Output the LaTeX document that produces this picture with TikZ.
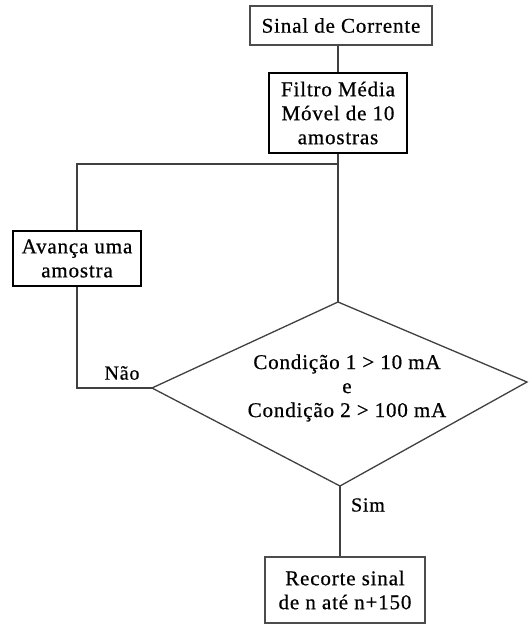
\documentclass[tikz,border=0pt]{standalone}
\usepackage{fontspec}
\setmainfont[LetterSpace=4,FakeBold=0.6]{Liberation Serif}
\begin{document}
\begin{tikzpicture}[x=1pt,y=-1pt,
  every node/.style={font=\fontsize{21}{24}\selectfont, align=center, inner sep=0pt},
  lightbox/.style={draw=black!70, line width=1.4pt, fill=white},
  heavybox/.style={draw=black, line width=2.2pt, fill=white},
  link/.style={draw=black!75, line width=1.3pt},
  tag/.style={font=\fontsize{20}{24}\selectfont}]
  \useasboundingbox (0,0) rectangle (528,624);
  \fill[white] (0,0) rectangle (528,624);

  % process boxes
  \node[lightbox, minimum width=182pt, minimum height=39pt] (sinal) at (341,25.5) {Sinal de Corrente};
  \node[heavybox, minimum width=138pt, minimum height=80pt] (filtro) at (338,113) {Filtro Média\\Móvel de 10\\amostras};
  \node[heavybox, minimum width=128pt, minimum height=55pt] (avanca) at (77,258.5) {Avança uma\\amostra};
  \node[lightbox, minimum width=160pt, minimum height=66pt] (recorte) at (345,590) {Recorte sinal\\de n até n+150};

  % decision diamond
  \coordinate (dtop) at (338,302);
  \coordinate (dleft) at (152,388);
  \coordinate (dbot) at (340,486);
  \coordinate (dright) at (527,382);
  \draw[link] (dtop) -- (dright) -- (dbot) -- (dleft) -- cycle;
  \node (cond) at (347,388) {Condição 1 > 10 mA\\e\\Condição 2 > 100 mA};

  % connectors
  \coordinate (split) at (338,164);
  \coordinate (loop) at (77,388);
  \draw[link] (filtro.north |- sinal.south) -- (filtro.north);
  \draw[link] (filtro.south) -- (dtop);
  \draw[link] (split) -| (avanca.north);
  \draw[link] (avanca.south) -- (loop) -- (dleft);
  \draw[link] (dbot) -- (dbot |- recorte.north);

  % branch labels
  \node[tag] (nao) at (122,373) {Não};
  \node[tag] (sim) at (368,505) {Sim};
\end{tikzpicture}
\end{document}
